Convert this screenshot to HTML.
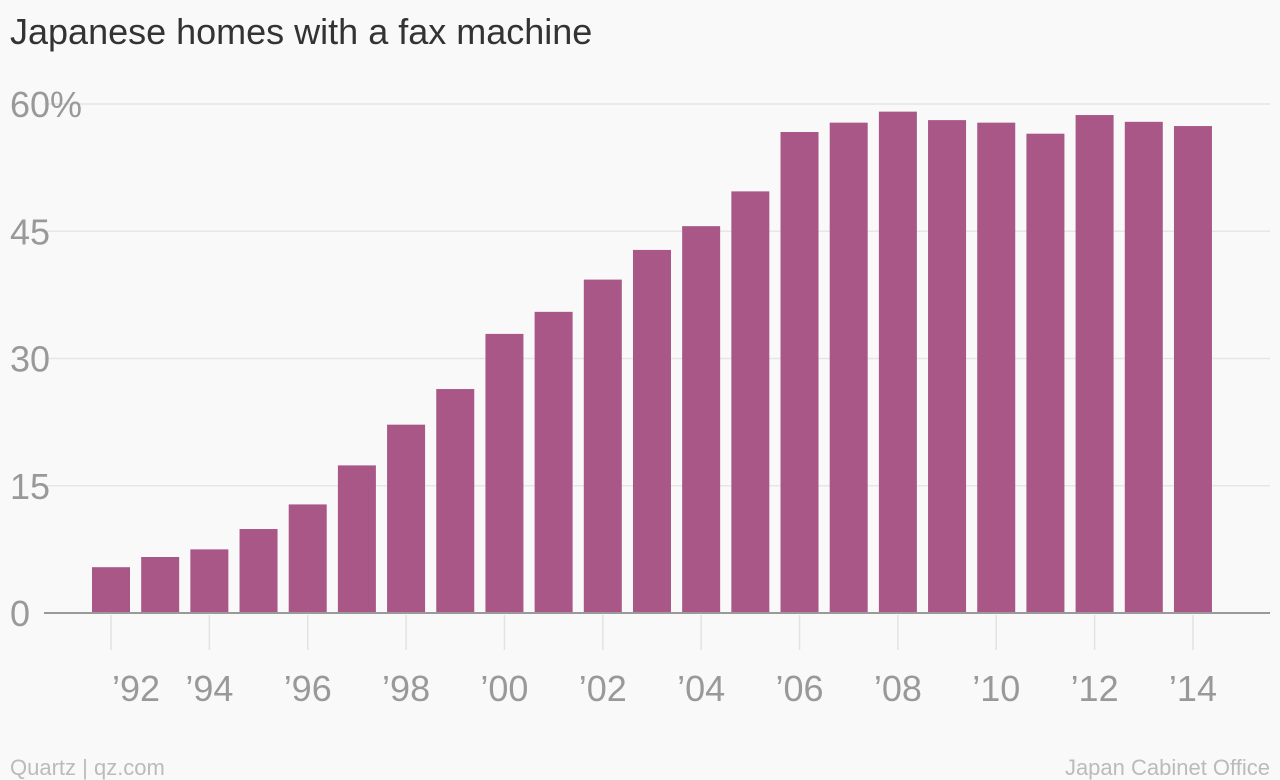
<!DOCTYPE html>
<html><head><meta charset="utf-8"><style>
html,body{margin:0;padding:0;background:#f9f9f9;}
svg{display:block;font-family:"Liberation Sans",sans-serif;}
</style></head><body>
<svg width="1280" height="780" id="c">
<text x="10" y="44" font-size="36" fill="#333">Japanese homes with a fax machine</text>
<text x="10" y="775" font-size="22" fill="#bbb">Quartz | qz.com</text>
<text x="1270" y="775" font-size="22" fill="#bbb" text-anchor="end">Japan Cabinet Office</text>
<g id="grid"></g><g id="bars"></g><g id="xaxis"></g>
</svg>
<script>
const years=[1992,1993,1994,1995,1996,1997,1998,1999,2000,2001,2002,2003,2004,2005,2006,2007,2008,2009,2010,2011,2012,2013,2014];
const values=[5.4,6.6,7.5,9.9,12.8,17.4,22.2,26.4,32.9,35.5,39.3,42.8,45.6,49.7,56.7,57.8,59.1,58.1,57.8,56.5,58.7,57.9,57.4];
const yTicks=[0,15,30,45,60];
const yTickLabels=["0","15","30","45","60%"];
const NS="http://www.w3.org/2000/svg";
const y0=613,pxPer=509/60;
function y(v){return y0-v*pxPer;}
function x(yr){return 111+(yr-1992)*49.18;}
const bw=38;
const grid=document.getElementById('grid');
yTicks.forEach((t,i)=>{
 if(t!==0){const l=document.createElementNS(NS,'line');
 l.setAttribute('x1',44);l.setAttribute('x2',1270);l.setAttribute('y1',y(t));l.setAttribute('y2',y(t));
 l.setAttribute('stroke','#e6e6e6');l.setAttribute('stroke-width',1.5);
 
 
 grid.appendChild(l);}
 const tx=document.createElementNS(NS,'text');
 tx.setAttribute('x',10);tx.setAttribute('y',y(t)+13);tx.setAttribute('font-size',36);tx.setAttribute('fill','#999');
 tx.textContent=yTickLabels[i];
 
 
 grid.appendChild(tx);
});
const bars=document.getElementById('bars');
years.forEach((yr,i)=>{
 const r=document.createElementNS(NS,'rect');
 r.setAttribute('x',x(yr)-bw/2);r.setAttribute('width',bw);r.setAttribute('y',y(values[i]));r.setAttribute('height',y0-y(values[i]));
 r.setAttribute('fill','#a85787');
 
 
 bars.appendChild(r);
});
const xa=document.getElementById('xaxis');
const ax=document.createElementNS(NS,'line');
ax.setAttribute('x1',44);ax.setAttribute('x2',1270);ax.setAttribute('y1',y0);ax.setAttribute('y2',y0);ax.setAttribute('stroke','#999');ax.setAttribute('stroke-width',2);


xa.appendChild(ax);
years.forEach(yr=>{
 if(yr%2)return;
 const t=document.createElementNS(NS,'line');
 t.setAttribute('x1',x(yr));t.setAttribute('x2',x(yr));t.setAttribute('y1',y0+2);t.setAttribute('y2',650);t.setAttribute('stroke','#e3e3e3');t.setAttribute('stroke-width',1.5);
 
 
 xa.appendChild(t);
 const tx=document.createElementNS(NS,'text');
 tx.setAttribute('x',x(yr)+(yr===1992?25:0));tx.setAttribute('y',701);tx.setAttribute('font-size',36);tx.setAttribute('fill','#999');tx.setAttribute('text-anchor','middle');
 tx.textContent='\u2019'+String(yr).slice(2);
 
 
 xa.appendChild(tx);
});
</script>
</body></html>
